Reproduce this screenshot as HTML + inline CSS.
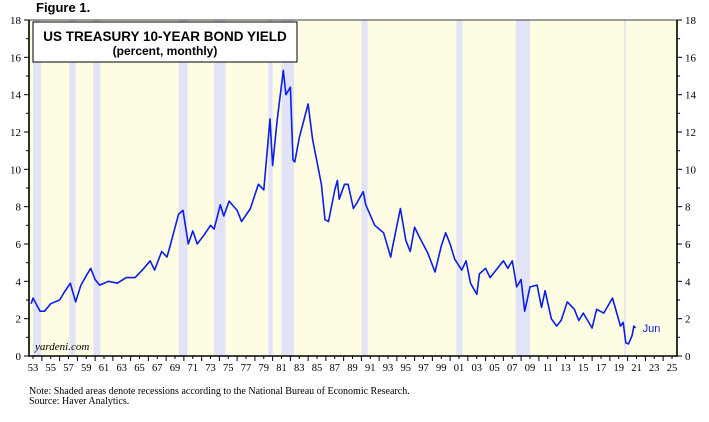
<!DOCTYPE html>
<html><head><meta charset="utf-8"><style>
body{margin:0;background:#fff;width:709px;height:417px;overflow:hidden;font-family:"Liberation Serif",serif}
svg text{font-family:"Liberation Serif",serif}
</style></head><body>
<svg width="709" height="417" xmlns="http://www.w3.org/2000/svg">
<g id="g"></g>
</svg>
<script>
const recStart=[1953.5,1957.6,1960.3,1969.9,1973.9,1980.0,1981.5,1990.5,2001.2,2007.9,2020.1];
const recEnd=[1954.4,1958.3,1961.1,1970.9,1975.2,1980.5,1982.9,1991.2,2001.9,2009.5,2020.3];
const dates=[1953.3,1953.5,1954.3,1954.8,1955.5,1956.5,1957.0,1957.7,1958.3,1958.9,1959.5,1960.0,1960.5,1961.0,1962.0,1963.0,1964.0,1965.0,1966.0,1966.7,1967.2,1968.0,1968.6,1969.0,1969.9,1970.4,1971.0,1971.5,1972.0,1972.8,1973.5,1973.9,1974.6,1975.0,1975.6,1976.5,1977.0,1978.0,1978.9,1979.5,1980.2,1980.5,1981.0,1981.7,1982.0,1982.5,1982.8,1983.0,1983.5,1984.5,1985.0,1985.5,1986.0,1986.4,1986.8,1987.5,1987.8,1988.0,1988.6,1989.0,1989.6,1990.0,1990.7,1991.0,1992.0,1993.0,1993.8,1994.0,1994.9,1995.5,1996.0,1996.5,1997.0,1998.0,1998.8,1999.5,2000.0,2000.5,2001.0,2001.8,2002.3,2002.8,2003.5,2003.8,2004.5,2005.0,2006.5,2007.0,2007.5,2008.0,2008.5,2008.9,2009.5,2010.3,2010.8,2011.2,2011.9,2012.5,2013.0,2013.7,2014.5,2015.0,2015.5,2016.5,2017.0,2017.8,2018.8,2019.7,2020.0,2020.3,2020.6,2021.0,2021.2,2021.4];
const yields=[2.8,3.1,2.4,2.4,2.8,3.0,3.4,3.9,2.9,3.8,4.3,4.7,4.1,3.8,4.0,3.9,4.2,4.2,4.7,5.1,4.6,5.6,5.3,6.0,7.6,7.8,6.0,6.7,6.0,6.5,7.0,6.8,8.1,7.5,8.3,7.8,7.2,7.9,9.2,8.9,12.7,10.2,12.6,15.3,14.0,14.4,10.5,10.4,11.7,13.5,11.6,10.4,9.2,7.3,7.2,8.9,9.4,8.4,9.2,9.2,7.9,8.2,8.8,8.1,7.0,6.6,5.3,5.8,7.9,6.2,5.6,6.9,6.4,5.5,4.5,5.9,6.6,6.0,5.2,4.6,5.1,3.9,3.3,4.4,4.7,4.2,5.1,4.7,5.1,3.7,4.1,2.4,3.7,3.8,2.6,3.5,2.0,1.6,1.9,2.9,2.5,1.9,2.3,1.5,2.5,2.3,3.1,1.6,1.8,0.7,0.65,1.1,1.6,1.5];
const xTicks=[];for(let y=1953;y<=2025;y+=2)xTicks.push(y);
const yTicks=[0,2,4,6,8,10,12,14,16,18];
const L=29,R=677,T=20,B=356;
const X=y=>33+(y-1953.5)*8.875, Y=v=>B-v*(B-T)/18;
const NS='http://www.w3.org/2000/svg',g=document.getElementById('g');
function mk(t,a,txt){const e=document.createElementNS(NS,t);for(const k in a)e.setAttribute(k,a[k]);if(txt!=null)e.textContent=txt;g.appendChild(e);return e;}
let e=mk('rect',{x:L,y:T,width:R-L,height:B-T,fill:'#fefde3'});

recStart.forEach((s,i)=>{const r=mk('rect',{x:X(s),y:T,width:X(recEnd[i])-X(s),height:B-T,fill:'#e3e3f8'});
});
e=mk('rect',{x:33,y:22,width:264,height:40,fill:'#fff',stroke:'#000','stroke-width':1});

e=mk('text',{x:165,y:41,'text-anchor':'middle','font-size':13.5,'font-weight':'bold',style:'font-family:"Liberation Sans",sans-serif'},'US TREASURY 10-YEAR BOND YIELD');

e=mk('text',{x:165,y:55,'text-anchor':'middle','font-size':12,'font-weight':'bold',style:'font-family:"Liberation Sans",sans-serif'},'(percent, monthly)');

e=mk('text',{x:36,y:12,'font-size':13,'font-weight':'bold',style:'font-family:"Liberation Sans",sans-serif'},'Figure 1.');

let d='';dates.forEach((t,i)=>{d+=(i?'L':'M')+X(t).toFixed(1)+','+Y(yields[i]).toFixed(1);});
e=mk('path',{d:d,fill:'none',stroke:'#0a1ee6','stroke-width':1.6,'stroke-linejoin':'round'});

e=mk('text',{x:X(dates[dates.length-1])+7,y:Y(yields[yields.length-1])+4,'font-size':11,fill:'#0a1ee6',style:'font-family:"Liberation Sans",sans-serif'},'Jun');

mk('line',{x1:L,y1:T,x2:R,y2:T,stroke:'#000','stroke-width':0.8});
e=mk('path',{d:`M${L},${T}V${B}H${R}V${T}`,fill:'none',stroke:'#000','stroke-width':1.6});

yTicks.forEach(v=>{const y=Y(v);
mk('line',{x1:L-5,y1:y,x2:L,y2:y,stroke:'#000'});mk('line',{x1:R,y1:y,x2:R+5,y2:y,stroke:'#000'});
if(v<18){mk('line',{x1:L-3,y1:Y(v+1),x2:L,y2:Y(v+1),stroke:'#000'});mk('line',{x1:R,y1:Y(v+1),x2:R+3,y2:Y(v+1),stroke:'#000'});}
let a=mk('text',{x:L-8,y:y+4,'text-anchor':'end','font-size':11},v);

a=mk('text',{x:R+8,y:y+4,'font-size':11},v);
});
for(let y=1953;y<=2025;y++)mk('line',{x1:X(y+0.5),y1:B,x2:X(y+0.5),y2:B+((y%2)?3:5),stroke:'#000'});
xTicks.forEach(y=>{const a=mk('text',{x:X(y+0.5),y:B+15,'text-anchor':'middle','font-size':10.5},String(y%100).padStart(2,'0'));
});
e=mk('text',{x:35,y:350,'font-size':11,'font-style':'italic'},'yardeni.com');

e=mk('text',{x:29,y:394,'font-size':10},'Note: Shaded areas denote recessions according to the National Bureau of Economic Research.');

e=mk('text',{x:29,y:404,'font-size':10},'Source: Haver Analytics.');

</script>
</body></html>
